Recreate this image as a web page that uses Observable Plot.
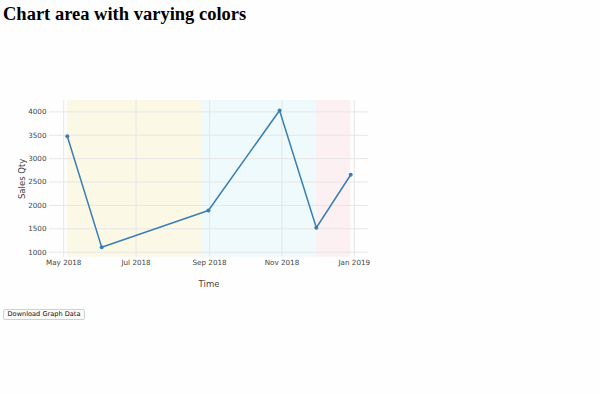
<!DOCTYPE html>
<html>
<head>
<meta charset="utf-8">
<script src="https://cdn.jsdelivr.net/npm/d3@7"></script>
<script src="https://cdn.jsdelivr.net/npm/@observablehq/plot@0.6"></script>
<style>
  html, body { margin: 0; padding: 0; background: #fefefe; width: 600px; height: 394px; overflow: hidden; }
  #title { position: absolute; left: 3px; top: 4px; font-family: "Liberation Serif", "Times New Roman", serif; font-weight: bold; font-size: 18.5px; color: #000; white-space: nowrap; }
  #chart { position: absolute; left: 0; top: 40px; }
  #btn { position: absolute; left: 3px; top: 309px; width: 82px; height: 11px; padding: 0; margin: 0; border: 1px solid #d0d0d0; border-radius: 2px; background: #fafafa; font-family: "DejaVu Sans", Verdana, sans-serif; font-size: 6.6px; color: #111; line-height: 9px; text-align: center; }
</style>
</head>
<body>
<div id="title">Chart area with varying colors</div>
<div id="chart"></div>
<button id="btn">Download Graph Data</button>
<script>
// Data
const dates = ["2018-05-04", "2018-06-02", "2018-08-31", "2018-10-30", "2018-11-30", "2018-12-29"];
const salesQty = [3480, 1107, 1892, 4030, 1522, 2655];

// Background bands
const bandStarts = ["2018-05-04", "2018-08-26", "2018-11-30"];
const bandEnds = ["2018-08-26", "2018-11-30", "2018-12-29"];
const bandColors = ["#fbf8e5", "#eefafb", "#fdf0f3"];

// Ticks
const xTicks = ["2018-05-01", "2018-07-01", "2018-09-01", "2018-11-01", "2019-01-01"];
const yTicks = [1000, 1500, 2000, 2500, 3000, 3500, 4000];
const xDomain = ["2018-04-19", "2019-01-13"];
const yDomain = [893, 4243];

const data = dates.map((d, i) => ({date: new Date(d), qty: salesQty[i]}));
const bands = bandStarts.map((s, i) => ({x1: new Date(s), x2: new Date(bandEnds[i]), color: bandColors[i]}));
const xTickDates = xTicks.map(d => new Date(d));

const font = "'DejaVu Sans', Verdana, sans-serif";

const chart = Plot.plot({
  width: 400,
  height: 260,
  marginTop: 60,
  marginBottom: 43.3,
  marginLeft: 49,
  marginRight: 32,
  style: {fontFamily: font, fontSize: "7.2px", color: "#444", background: "transparent"},
  x: {type: "utc", domain: xDomain.map(d => new Date(d)), ticks: xTickDates, tickFormat: d3.utcFormat("%b %Y"), tickSize: 0, tickPadding: 3, label: null},
  y: {domain: yDomain, ticks: yTicks, tickFormat: d3.format("d"), tickSize: 0, tickPadding: 3, label: null},
  marks: [
    Plot.rect(bands, {x1: "x1", x2: "x2", fill: "color"}),
    Plot.ruleX(xTickDates, {stroke: "#e6e6e6", strokeWidth: 1}),
    Plot.ruleY(yTicks, {stroke: "#e6e6e6", strokeWidth: 1}),
    Plot.line(data, {x: "date", y: "qty", stroke: "#3a7fb3", strokeWidth: 1.5}),
    Plot.dot(data, {x: "date", y: "qty", r: 2, fill: "#3a7fb3", stroke: "none"}),
    Plot.text(["Time"], {frameAnchor: "bottom", dy: 27.5, lineAnchor: "middle", text: d => d, fontSize: 8.5, fill: "#444"}),
    Plot.text(["Sales Qty"], {frameAnchor: "left", dx: -27, rotate: -90, textAnchor: "middle", lineAnchor: "middle", text: d => d, fontSize: 8.5, fill: "#444"})
  ]
});
document.getElementById("chart").appendChild(chart);
</script>
</body>
</html>
